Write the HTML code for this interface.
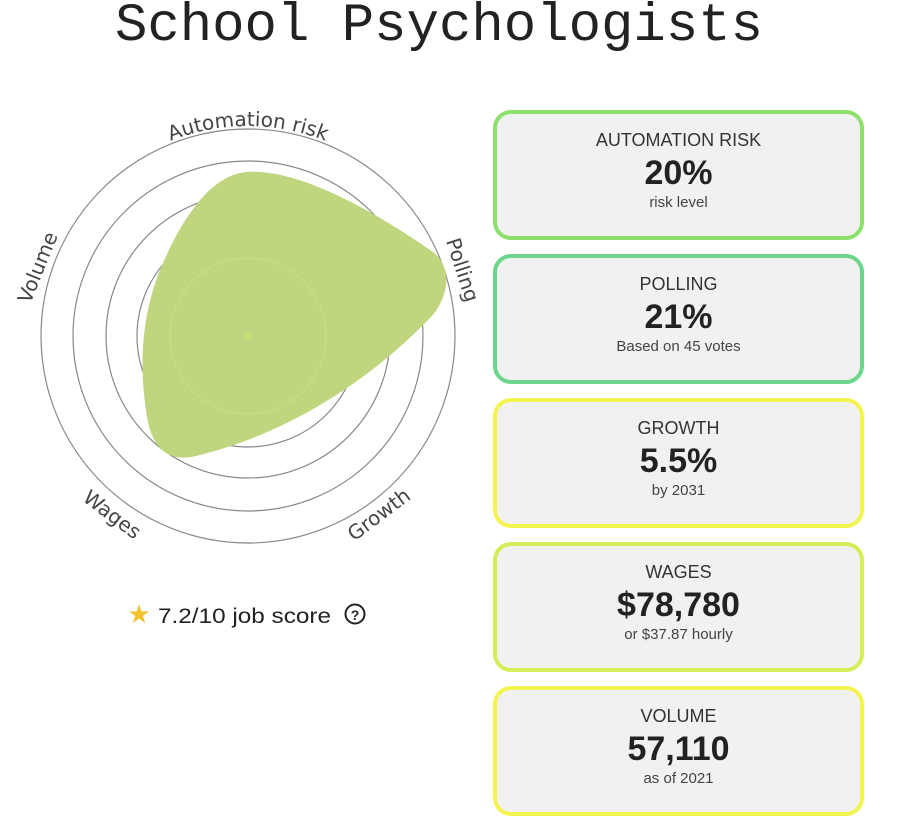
<!DOCTYPE html>
<html><head><meta charset="utf-8"><style>
body{margin:0;width:908px;height:824px;background:#fff;position:relative;overflow:hidden;font-family:"Liberation Sans",sans-serif}
h1{position:absolute;top:-4px;left:0;width:878px;text-align:center;margin:0;font:400 54px "Liberation Mono",monospace;color:#222}
.card{position:absolute;left:493px;width:363px;height:122px;border:4px solid;border-radius:18px;background:#f1f1f1;box-sizing:content-box;text-align:center;color:#333}
.card .t{margin-top:16px;font-size:18px}
.card .v{font-size:34px;font-weight:bold;color:#222;margin-top:3px;line-height:38px}
.card .s{font-size:15px;color:#444;margin-top:2px}
</style></head><body>
<h1>School Psychologists</h1>
<svg width="490" height="680" style="position:absolute;left:0;top:0">
<g fill="none" stroke="#888" stroke-width="1.2">
<circle cx="248" cy="336" r="207"/><circle cx="248" cy="336" r="175"/><circle cx="248" cy="336" r="142"/><circle cx="248" cy="336" r="111"/>
</g>
<path d="M247 172 C300 168 380 215 430 250 C455 265 448 300 430 318 C380 370 300 430 200 455 C165 465 150 445 146 410 C140 370 140 320 160 270 C185 210 215 174 247 172 Z" fill="#bfd67f"/>
<circle cx="248" cy="336" r="78" fill="none" stroke="#c8e080" stroke-width="1"/>
<circle cx="248" cy="336" r="4" fill="#c8e27a"/>
<defs>
<path id="top" d="M248 336 m-210 0 a210 210 0 0 1 420 0"/>
</defs>
<g font-family="'DejaVu Sans',sans-serif" font-size="20" fill="#444">
<text><textPath href="#top" startOffset="50%" text-anchor="middle">Automation risk</textPath></text>
<text transform="rotate(-68 44 270)" x="44" y="270" text-anchor="middle">Volume</text>
<text transform="rotate(72 456 272)" x="456" y="272" text-anchor="middle">Polling</text>
<text transform="rotate(37 108 520)" x="108" y="520" text-anchor="middle">Wages</text>
<text transform="rotate(-37 383 520)" x="383" y="520" text-anchor="middle">Growth</text>
</g>
<text x="139" y="623" font-size="26" fill="#f2c230" text-anchor="middle">★</text>
<text x="158" y="623" font-size="21" fill="#222" textLength="173" lengthAdjust="spacingAndGlyphs">7.2/10 job score</text>
<circle cx="355" cy="614" r="9.5" fill="none" stroke="#222" stroke-width="2"/>
<text x="355" y="620" font-size="14" font-weight="bold" text-anchor="middle" fill="#222">?</text>
</svg>
<div class="card" style="top:110px;border-color:#8ee06c"><div class="t">AUTOMATION RISK</div><div class="v">20%</div><div class="s">risk level</div></div>
<div class="card" style="top:254px;border-color:#6cd68c"><div class="t">POLLING</div><div class="v">21%</div><div class="s">Based on 45 votes</div></div>
<div class="card" style="top:398px;border-color:#f4f450"><div class="t">GROWTH</div><div class="v">5.5%</div><div class="s">by 2031</div></div>
<div class="card" style="top:542px;border-color:#d2ee58"><div class="t">WAGES</div><div class="v">$78,780</div><div class="s">or $37.87 hourly</div></div>
<div class="card" style="top:686px;border-color:#f4f450"><div class="t">VOLUME</div><div class="v">57,110</div><div class="s">as of 2021</div></div>
</body></html>
